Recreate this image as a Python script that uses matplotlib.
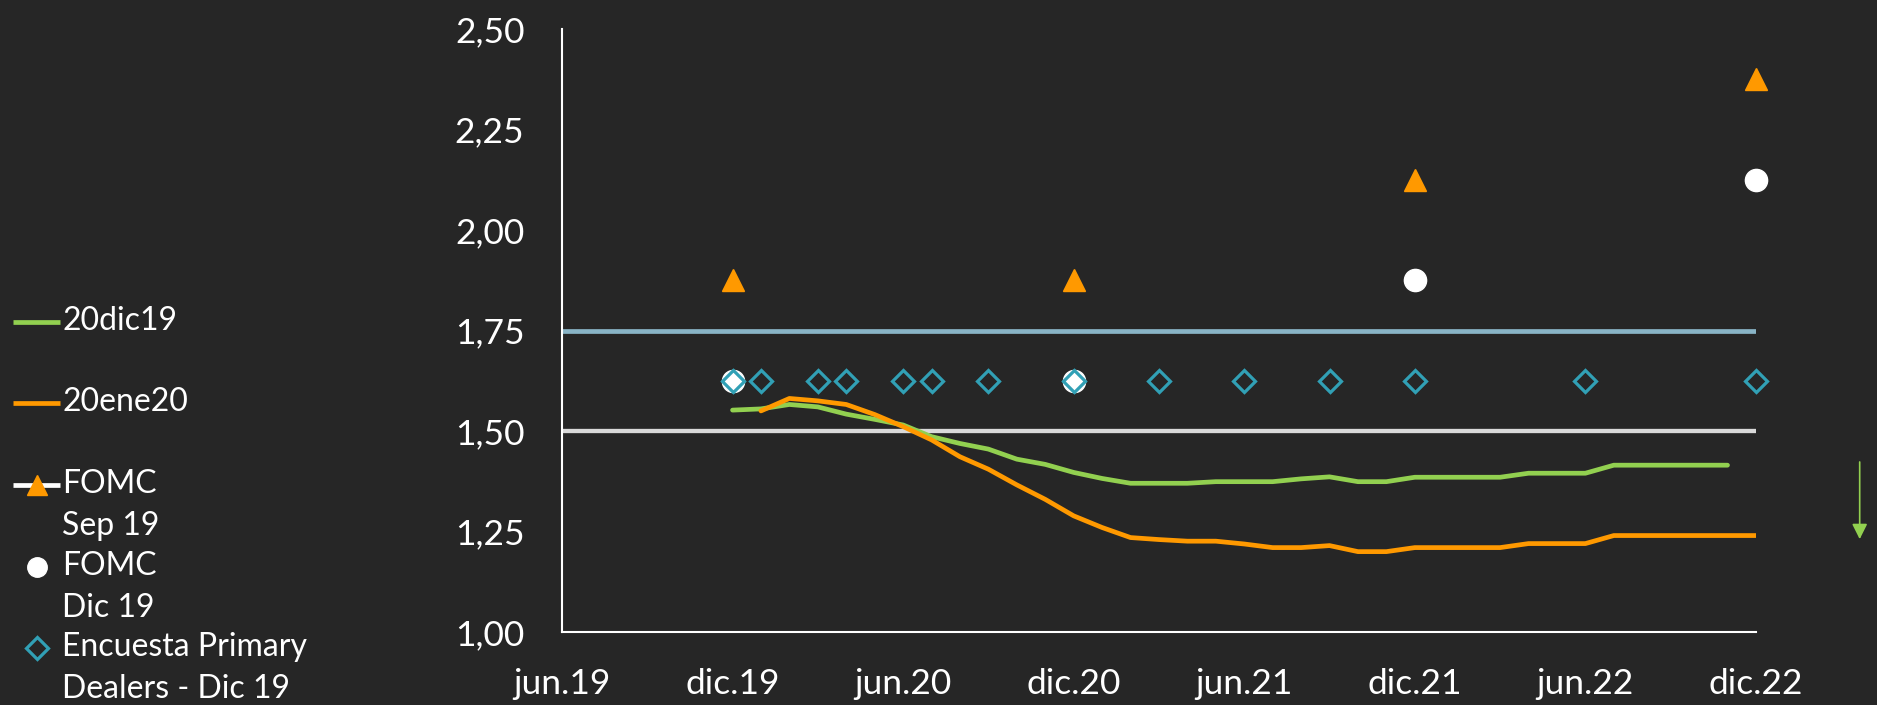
import matplotlib
matplotlib.use("Agg")
import matplotlib.pyplot as plt
from matplotlib.lines import Line2D

# x axis is a month index: 0 = jun.19 ... 42 = dic.22
tick_months = [0, 6, 12, 18, 24, 30, 36, 42]
tick_labels = ["jun.19", "dic.19", "jun.20", "dic.20", "jun.21", "dic.21", "jun.22", "dic.22"]
y_ticks = [1.00, 1.25, 1.50, 1.75, 2.00, 2.25, 2.50]

# futures-implied path, 20dic19 (dic.19 .. nov.22)
dic19_months = list(range(6, 42))
dic19_vals = [1.552, 1.555, 1.566, 1.560, 1.542, 1.529, 1.515, 1.486, 1.469, 1.455,
              1.430, 1.417, 1.397, 1.382, 1.370, 1.370, 1.370, 1.374, 1.374, 1.374,
              1.381, 1.386, 1.374, 1.374, 1.385, 1.385, 1.385, 1.385, 1.395, 1.395,
              1.395, 1.415, 1.415, 1.415, 1.415, 1.415]

# futures-implied path, 20ene20 (ene.20 .. dic.22)
ene20_months = list(range(7, 43))
ene20_vals = [1.550, 1.581, 1.575, 1.566, 1.541, 1.511, 1.478, 1.436, 1.405, 1.366,
              1.330, 1.289, 1.260, 1.235, 1.230, 1.226, 1.226, 1.219, 1.210, 1.210,
              1.215, 1.200, 1.200, 1.210, 1.210, 1.210, 1.210, 1.220, 1.220, 1.220,
              1.240, 1.240, 1.240, 1.240, 1.240, 1.240]

fomc_months = [6, 18, 30, 42]
fomc_sep19 = [1.875, 1.875, 2.125, 2.375]
fomc_dic19 = [1.625, 1.625, 1.875, 2.125]

survey_months = [6, 7, 9, 10, 12, 13, 15, 18, 21, 24, 27, 30, 36, 42]
survey_vals = [1.625] * len(survey_months)

range_top = 1.75
range_bottom = 1.50

arrow_x = 45.65
arrow_from, arrow_to = 1.423, 1.231

BG = "#262626"
GREEN = "#92d050"
ORANGE = "#ff9900"
TEAL = "#31a0b5"
BLUE_LINE = "#89b4c6"
GREY_LINE = "#d9d9d9"
FONT = "Lato"

plt.rcParams["font.family"] = [FONT, "DejaVu Sans"]

fig = plt.figure(figsize=(18.77, 7.05), dpi=100, facecolor=BG)
ax = fig.add_axes([0.2994, 0.1035, 0.6361, 0.8554], facecolor=BG)

ax.axhline(range_top, color=BLUE_LINE, lw=3.4, zorder=1)
ax.axhline(range_bottom, color=GREY_LINE, lw=3.1, zorder=1)

ax.plot(dic19_months, dic19_vals, color=GREEN, lw=3.4, solid_capstyle="round", zorder=3)
ax.plot(ene20_months, ene20_vals, color=ORANGE, lw=3.4, solid_capstyle="round", zorder=3)

ax.plot(fomc_months, fomc_sep19, ls="none", marker="^", ms=16, color=ORANGE,
        clip_on=False, zorder=4)
ax.plot(fomc_months, fomc_dic19, ls="none", marker="o", ms=16, color="white",
        clip_on=False, zorder=4)
ax.plot(survey_months, survey_vals, ls="none", marker="D", ms=11.5, mfc="none",
        mec=TEAL, mew=2.3, clip_on=False, zorder=5)

ax.annotate("", xy=(arrow_x, arrow_to), xytext=(arrow_x, arrow_from),
            arrowprops=dict(arrowstyle="-|>", color=GREEN, lw=1.2,
                            mutation_scale=23, shrinkA=0, shrinkB=0),
            annotation_clip=False)

ax.set_xlim(0, 42)
ax.set_ylim(1.0, 2.5)
ax.set_xticks(tick_months)
ax.set_xticklabels(tick_labels)
ax.set_yticks(y_ticks)
ax.set_yticklabels([f"{v:.2f}".replace(".", ",") for v in y_ticks])
ax.tick_params(length=0, labelsize=25.5, labelcolor="white")
ax.tick_params(axis="y", pad=27)
ax.tick_params(axis="x", pad=26)
for side in ["top", "right"]:
    ax.spines[side].set_visible(False)
for side in ["left", "bottom"]:
    ax.spines[side].set_color("white")
    ax.spines[side].set_linewidth(1.5)

# legend, drawn by hand on the left (figure pixel rows from the reference)
W, H = 1877, 705
legend_rows = [
    ("20dic19", 322, dict(color=GREEN, lw=3.4), None),
    ("20ene20", 403, dict(color=ORANGE, lw=3.4), None),
    ("FOMC\nSep 19", 485, dict(color="white", lw=3.4), dict(marker="^", ms=15, color=ORANGE)),
    ("FOMC\nDic 19", 567, None, dict(marker="o", ms=14, color="white")),
    ("Encuesta Primary\nDealers - Dic 19", 648, None,
     dict(marker="D", ms=11, mfc="none", mec=TEAL, mew=2.3)),
]
for label, row, line_kw, mark_kw in legend_rows:
    yf = 1 - row / H
    if line_kw:
        fig.add_artist(Line2D([13 / W, 60 / W], [yf, yf], transform=fig.transFigure,
                              solid_capstyle="butt", **line_kw))
    if mark_kw:
        fig.add_artist(Line2D([37 / W], [yf], transform=fig.transFigure,
                              ls="none", **mark_kw))
    fig.text(62 / W, yf + 16 / H, label, color="white", fontsize=23, va="top",
             ha="left", linespacing=1.48)

fig.savefig("out.png", dpi=100, facecolor=BG)
